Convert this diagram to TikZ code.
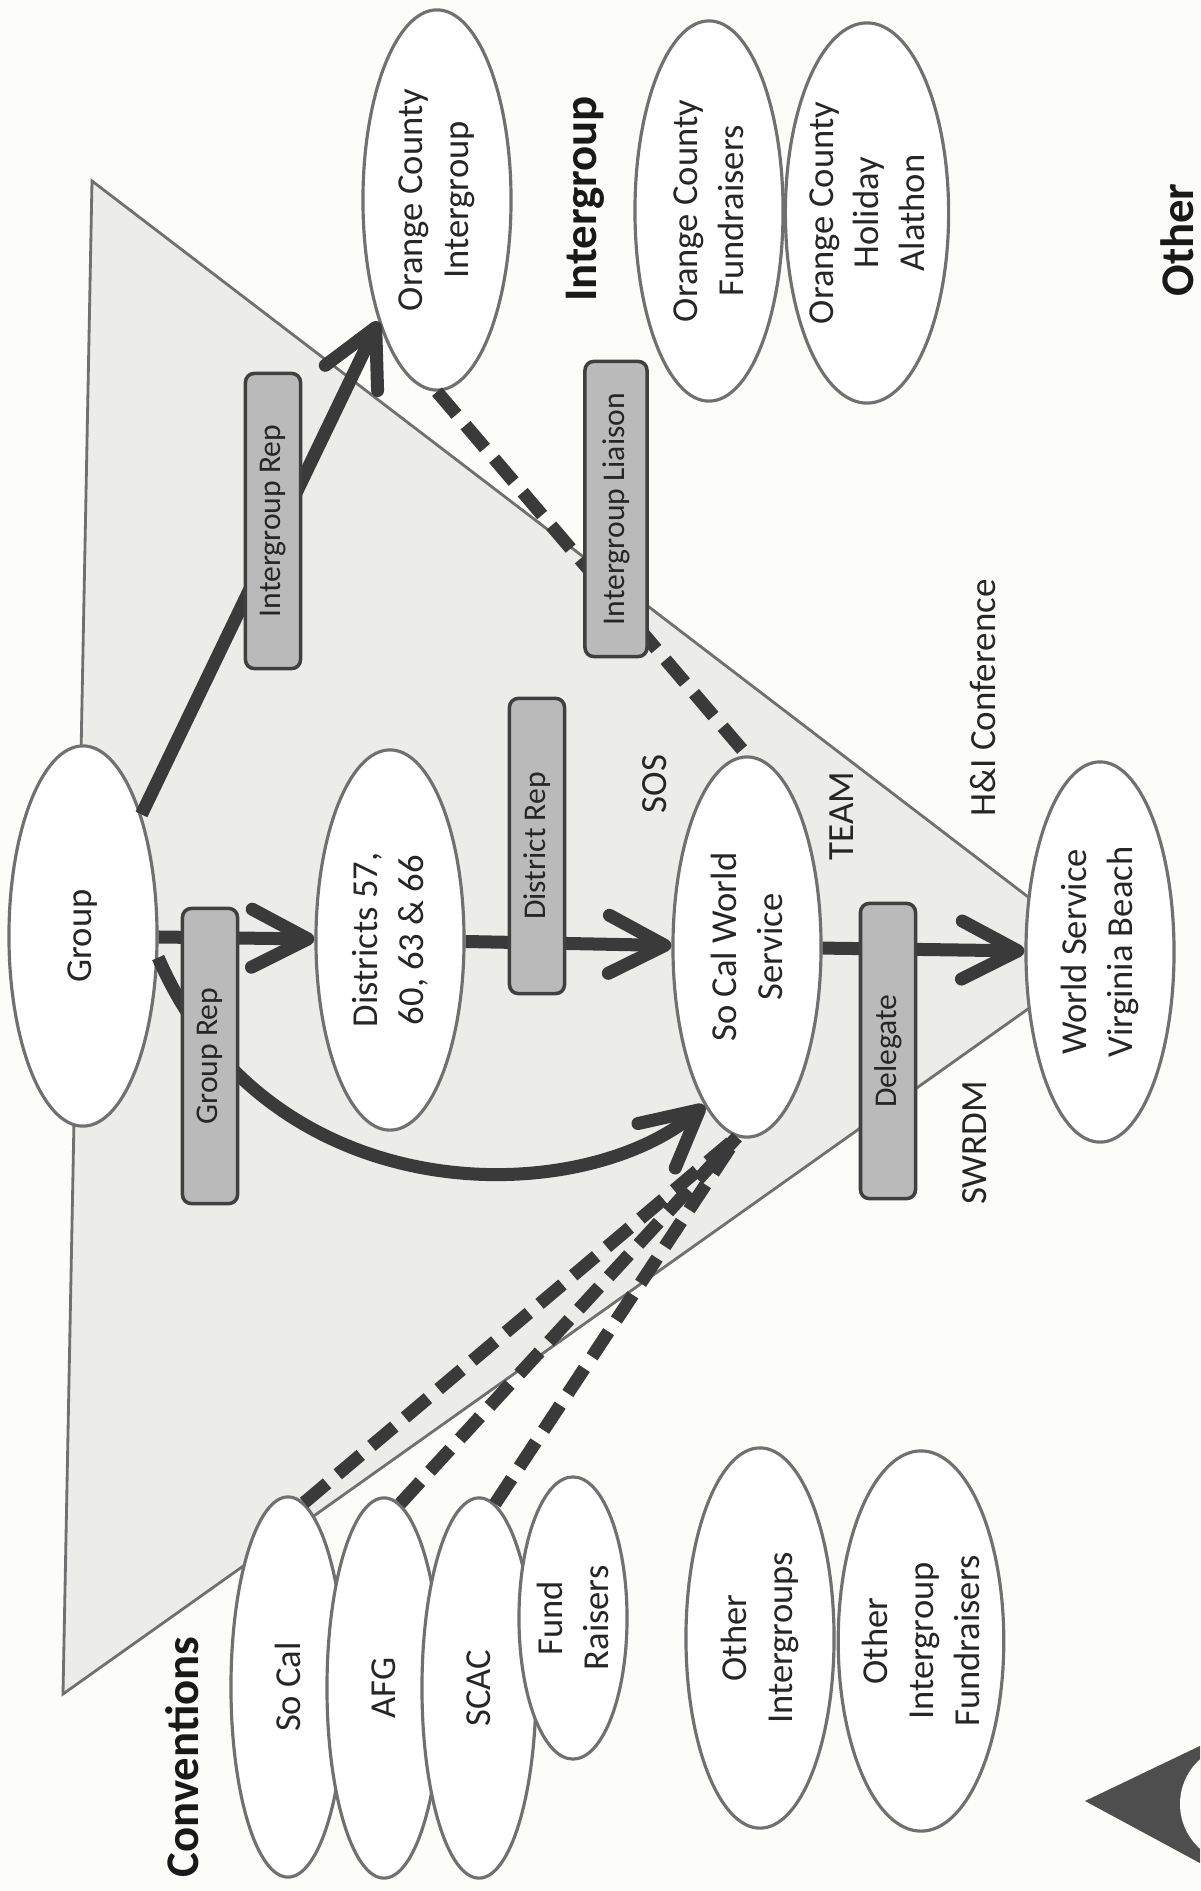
\documentclass[tikz,border=0pt]{standalone}
\usepackage{fontspec}
\setmainfont{Carlito}
\usetikzlibrary{shapes.geometric,arrows.meta}
\definecolor{paper}{RGB}{252,252,249}
\definecolor{ink}{RGB}{58,58,58}
\definecolor{rim}{RGB}{112,112,112}
\definecolor{tri}{RGB}{236,236,233}
\definecolor{boxgray}{RGB}{186,186,186}
\begin{document}
\begin{tikzpicture}[x=0.01cm,y=-0.01cm]

\tikzstyle{ov} = [draw=rim, fill=white, line width=0.9pt, shape=ellipse, rotate=90, minimum width=3.8cm, minimum height=1.48cm, inner sep=0pt, align=center, text=black!85, font=\fontsize{10.4}{13}\selectfont]
\tikzstyle{cv} = [ov, minimum height=1.14cm]
\tikzstyle{rb} = [draw=black!75, fill=boxgray, line width=1pt, rounded corners=2.5pt, rotate=90, minimum width=2.95cm, minimum height=0.55cm, inner sep=0pt, text=black!85, font=\fontsize{9}{11}\selectfont]
\tikzstyle{hd} = [rotate=90, inner sep=0pt, text=black!90, font=\fontsize{13.3}{16}\selectfont\bfseries]
\tikzstyle{tx} = [rotate=90, text=black!85, font=\fontsize{10.5}{13}\selectfont]
\tikzstyle{ar} = [draw=ink, line width=0.13cm, -{Straight Barb[length=5.6mm,width=5.8mm,round]}]
\tikzstyle{ds} = [draw=ink, line width=0.13cm, dash pattern=on 0.3cm off 0.14cm]

\useasboundingbox[fill=paper] (0,0) rectangle (1200,1891);

% pyramid
\draw[fill=tri, draw=rim, line width=0.8pt] (92,181) -- (1104,955) -- (63,1694) -- cycle;

% logo in the corner
\begin{scope}
\clip (0,0) rectangle (1200,1891);
\fill[ink!90] (1085,1801) -- (1300,1698) -- (1300,1917) -- cycle;
\fill[paper] (1240,1804) circle (60);
\end{scope}

% service structure
\node[ov] (group) at (83,936) {Group};
\node[ov] (districts) at (390,940) {Districts 57,\\60, 63 \& 66};
\node[ov] (scws) at (747,947) {So Cal World\\Service};
\node[ov] (wsvb) at (1100,952) {World Service\\Virginia Beach};

% intergroup
\node[ov] (oci) at (437,200) {Orange County\\Intergroup};
\node[ov] (ocfund) at (709,211) {Orange County\\Fundraisers};
\node[ov] (ocholiday) at (867,213) {Orange County\\Holiday\\Alathon};

% conventions
\node[cv] (socal) at (288,1687) {So Cal};
\node[cv] (afg) at (384,1688) {AFG};
\node[cv] (scac) at (479,1688) {SCAC};
\node[cv, minimum width=2.82cm, minimum height=1.08cm] (fundraisers) at (573,1618) {Fund\\Raisers};

% other
\node[ov] (otherig) at (760,1638) {Other\\Intergroups};
\node[ov] (otherigfund) at (921,1641) {Other\\Intergroup\\Fundraisers};

% headings and loose labels
\node[hd] (lblintergroup) at (585,199) {Intergroup};
\node[hd] (lblconventions) at (182,1757) {Conventions};
\node[hd] (lblother) at (1177,240) {Other};
\node[tx] (sos) at (655,784) {SOS};
\node[tx] (team) at (842,816) {TEAM};
\node[tx] (hiconf) at (983,698) {H\&I Conference};
\node[tx] (swrdm) at (975,1143) {SWRDM};

% connections
\draw[ar] (group) -- (oci);
\draw[ar] (group) -- (districts);
\draw[ar] (districts) -- (scws);
\draw[ar] (scws) -- (wsvb);
\draw[ar] (group.-106) .. controls (270,1215) and (580,1210) .. (scws.165);
\draw[ds] (oci.west) -- (scws.east);
\draw[ds] (socal.-5) -- (scws.177);
\draw[ds] (afg.-5) -- (scws.177);
\draw[ds] (scac.-5) -- (scws.177);

% representatives
\node[rb] (grouprep) at (210,1056) {Group Rep};
\node[rb] (districtrep) at (537,846) {District Rep};
\node[rb] (delegate) at (888,1051) {Delegate};
\node[rb] (igrep) at (273,521) {Intergroup Rep};
\node[rb, minimum height=0.62cm] (igliaison) at (616,509) {Intergroup Liaison};

\end{tikzpicture}
\end{document}
